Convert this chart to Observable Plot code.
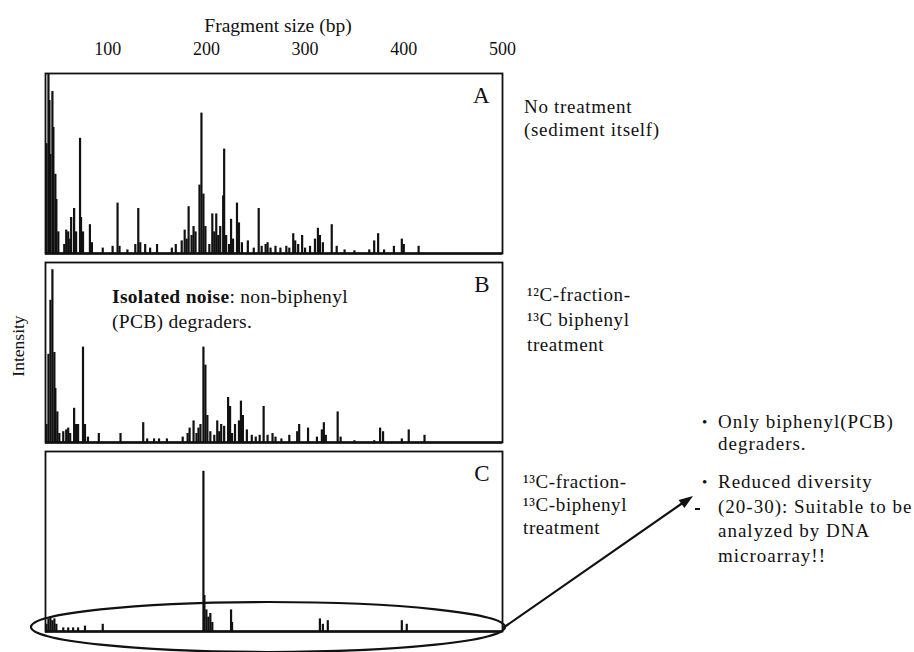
<!DOCTYPE html>
<html><head><meta charset="utf-8">
<script src="https://cdn.jsdelivr.net/npm/d3@7"></script>
<script src="https://cdn.jsdelivr.net/npm/@observablehq/plot@0.6"></script>
<style>
body{margin:0;background:#fff;}
#chart{position:relative;width:914px;height:652px;}
</style>
</head><body><div id="chart"></div>
<script>
const panels = ["A","B","C"];
const xTicks = [100,200,300,400,500];
const xTitle = "Fragment size (bp)";
const yTitle = "Intensity";

const peaksA_bp = [38,40,41,42,44,45,47,48,50,56,58,60,62,63,66,68,72,73,75,82,84,95,105,110,112,120,128,131,133,138,143,150,165,169,175,178,180,182,185,187,189,193,195,197,199,203,206,208,210,212,214,217,218,220,223,225,227,231,233,236,242,248,253,256,260,262,265,270,275,281,284,288,290,293,297,300,305,310,313,315,318,327,332,340,350,365,370,374,380,390,398,400,415];
const peaksA_h  = [0.61,1.0,0.85,0.55,0.90,0.70,0.44,0.30,0.12,0.05,0.13,0.12,0.08,0.20,0.25,0.12,0.64,0.20,0.12,0.16,0.06,0.03,0.04,0.28,0.04,0.02,0.05,0.25,0.06,0.05,0.03,0.05,0.03,0.05,0.07,0.13,0.08,0.26,0.10,0.15,0.12,0.38,0.78,0.33,0.15,0.05,0.22,0.12,0.22,0.10,0.15,0.32,0.58,0.10,0.05,0.19,0.08,0.28,0.17,0.06,0.07,0.03,0.25,0.04,0.05,0.06,0.03,0.04,0.03,0.04,0.03,0.11,0.07,0.05,0.10,0.03,0.04,0.08,0.14,0.10,0.06,0.16,0.04,0.02,0.015,0.02,0.07,0.11,0.02,0.04,0.08,0.05,0.04];

const peaksB_bp = [38,40,42,44,46,47,49,51,55,58,60,62,66,68,70,75,77,80,91,113,136,140,147,152,160,176,181,183,187,190,192,194,197,199,201,204,208,211,213,215,218,222,224,226,229,233,235,237,241,246,250,254,258,262,267,270,276,284,292,294,303,312,317,319,321,333,336,350,370,376,379,398,405,421];
const peaksB_h  = [0.10,0.49,0.79,0.96,0.50,0.30,0.17,0.05,0.06,0.07,0.08,0.05,0.19,0.10,0.10,0.53,0.10,0.03,0.05,0.05,0.11,0.02,0.02,0.02,0.02,0.03,0.05,0.08,0.12,0.05,0.08,0.10,0.53,0.43,0.15,0.06,0.04,0.12,0.06,0.10,0.09,0.25,0.20,0.05,0.10,0.12,0.23,0.15,0.07,0.04,0.03,0.04,0.20,0.04,0.05,0.03,0.02,0.04,0.06,0.10,0.08,0.03,0.07,0.11,0.04,0.17,0.03,0.01,0.01,0.08,0.06,0.02,0.07,0.04];

const peaksC_bp = [38,40,42,44,46,48,55,60,65,70,77,95,197,198,200,202,204,206,225,226,315,318,323,398,403];
const peaksC_h  = [0.04,0.07,0.08,0.06,0.07,0.04,0.02,0.02,0.02,0.02,0.03,0.04,0.89,0.20,0.12,0.08,0.10,0.05,0.12,0.05,0.07,0.04,0.06,0.06,0.04];

const rows = [];
[[peaksA_bp,peaksA_h,"A"],[peaksB_bp,peaksB_h,"B"],[peaksC_bp,peaksC_h,"C"]].forEach(([bp,h,p]) => {
  bp.forEach((v,i) => rows.push({panel:p, bp:v, h:h[i]}));
});

const plot = Plot.plot({
  width: 914,
  height: 652,
  marginLeft: 45,
  marginRight: 412,
  marginTop: 73,
  marginBottom: 21,
  style: {fontFamily: "Liberation Serif", fontSize: "18px", color: "#111", background: "transparent"},
  x: {domain: [37, 500]},
  y: {domain: [0, 1], axis: null},
  fy: {domain: panels, axis: null, paddingInner: 0.05, paddingOuter: 0},
  marks: [
    Plot.ruleX(rows, {x: "bp", y1: 0, y2: "h", fy: "panel", stroke: "#111", strokeWidth: 2.2}),
    Plot.ruleY([0], {stroke: "#111", strokeWidth: 2.4}),
    Plot.frame({stroke: "#111", strokeWidth: 1.8}),
    Plot.text(panels, {fy: d => d, text: d => d, frameAnchor: "top-right", dx: -13, dy: 13, fontSize: 23, lineAnchor: "top"}),
    Plot.axisX({anchor: "top", ticks: xTicks, tickSize: 0, tickPadding: 19, fontSize: 18, label: null})
  ]
});

const chart = document.getElementById("chart");
chart.appendChild(plot);

const svg = d3.select(plot);
const g = svg.append("g").attr("font-family", "Liberation Serif").attr("fill", "#111").attr("text-anchor", "start");

function addText(x, y, lines, size, opts = {}) {
  lines.forEach((t, i) => {
    const el = g.append("text").attr("x", x).attr("y", y + i * (opts.lh || 23)).attr("font-size", size);
    if (opts.ls) el.attr("letter-spacing", opts.ls);
    if (Array.isArray(t)) {
      t.forEach(([s, bold]) => el.append("tspan").attr("font-weight", bold ? "bold" : null).text(s));
    } else el.text(t);
  });
}

// axis title
g.append("text").attr("x", 278).attr("y", 32).attr("text-anchor", "middle").attr("font-size", 19.5).text(xTitle);

// y label
g.append("text").attr("transform", "translate(24,346) rotate(-90)").attr("text-anchor", "middle")
  .attr("font-size", 17.5).text(yTitle);

// right-hand labels
addText(524, 113, ["No treatment", "(sediment itself)"], 19, {lh: 23, ls: 0.7});
addText(527, 301, ["¹²C-fraction-", "¹³C biphenyl", "treatment"], 19, {lh: 25, ls: 0.6});
addText(523, 488, ["¹³C-fraction-", "¹³C-biphenyl", "treatment"], 19, {lh: 23, ls: 0.6});

// in-panel note
addText(112, 303, [[["Isolated noise", true], [": non-biphenyl", false]], "(PCB) degraders."], 19.5, {lh: 25, ls: 0.3});

// bullets
addText(702, 427, ["•"], 15);
addText(718, 428, ["Only biphenyl(PCB)", "degraders."], 19, {lh: 22, ls: 1});
addText(702, 487, ["•"], 15);
addText(718, 488, ["Reduced diversity", "(20-30): Suitable to be", "analyzed by DNA", "microarray!!"], 19, {lh: 24.5, ls: 1});

// ellipse and arrow
g.append("ellipse").attr("cx", 268).attr("cy", 627).attr("rx", 237).attr("ry", 25)
  .attr("fill", "none").attr("stroke", "#111").attr("stroke-width", 2.2);
g.append("line").attr("x1", 503).attr("y1", 628).attr("x2", 684).attr("y2", 502)
  .attr("stroke", "#111").attr("stroke-width", 2.2);
g.append("polygon").attr("points", "693,496 684.4,508.1 678.6,499.9").attr("fill", "#111");
g.append("line").attr("x1", 695).attr("y1", 509).attr("x2", 700).attr("y2", 509)
  .attr("stroke", "#111").attr("stroke-width", 2);
</script>
</body></html>
